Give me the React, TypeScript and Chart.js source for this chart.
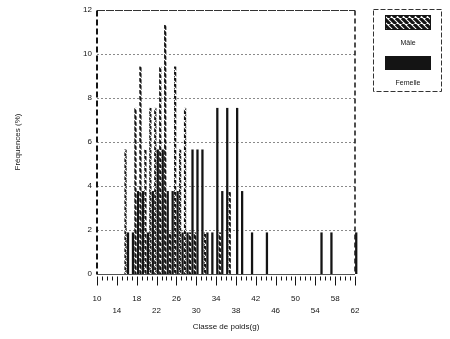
import React, { useEffect, useRef } from "react";
import { Chart, registerables } from "chart.js";

Chart.register(...registerables);

// ---- data ----
const weightClasses = [16, 17, 18, 19, 20, 21, 22, 23, 24, 25, 26, 27, 28, 29, 30, 31, 32, 33, 34, 35, 36, 37, 38, 39, 41, 44, 55, 57, 62];
const maleFreq = [5.66, 0, 7.55, 9.43, 5.66, 7.55, 7.55, 9.43, 11.32, 1.89, 9.43, 5.66, 7.55, 1.89, 1.89, 0, 1.89, 0, 0, 1.89, 0, 3.77, 0, 0, 0, 0, 0, 0, 0];
const femaleFreq = [1.89, 1.89, 3.77, 3.77, 1.89, 3.77, 5.66, 5.66, 3.77, 3.77, 3.77, 1.89, 1.89, 5.66, 5.66, 5.66, 1.89, 1.89, 7.55, 3.77, 7.55, 0, 7.55, 3.77, 1.89, 1.89, 1.89, 1.89, 1.89];
const xTickValues = [10, 14, 18, 22, 26, 30, 34, 38, 42, 46, 50, 54, 58, 62];
const yTickValues = [0, 2, 4, 6, 8, 10, 12];
const seriesNames = ["Mâle", "Femelle"];
const xTitle = "Classe de poids(g)";
const yTitle = "Fréquences (%)";

const FONT = "'Liberation Sans', 'DejaVu Sans', sans-serif";
const INK = "#141414";

function makeHatch(): CanvasPattern | string {
  const c = document.createElement("canvas");
  c.width = 6;
  c.height = 6;
  const g = c.getContext("2d");
  if (!g) return INK;
  g.fillStyle = "#ffffff";
  g.fillRect(0, 0, 6, 6);
  g.strokeStyle = INK;
  g.lineWidth = 3.2;
  g.beginPath();
  for (const k of [-6, 0, 6]) {
    g.moveTo(k, 0);
    g.lineTo(k + 6, 6);
  }
  g.stroke();
  const p = g.createPattern(c, "repeat");
  return p || INK;
}

const framePlugin = {
  id: "frame",
  beforeDatasetsDraw(chart: any) {
    const { ctx, chartArea } = chart;
    const ys = chart.scales.y;
    ctx.save();
    ctx.strokeStyle = "#8a8a8a";
    ctx.lineWidth = 1;
    ctx.setLineDash([2, 2]);
    for (const v of yTickValues) {
      if (v === 0 || v === 12) continue;
      const y = Math.round(ys.getPixelForValue(v)) + 0.5;
      ctx.beginPath();
      ctx.moveTo(chartArea.left, y);
      ctx.lineTo(chartArea.right, y);
      ctx.stroke();
    }
    ctx.restore();
  },
  afterDatasetsDraw(chart: any) {
    const { ctx, chartArea } = chart;
    const xs = chart.scales.x;
    const ys = chart.scales.y;
    const top = Math.round(ys.getPixelForValue(12)) + 0.5;
    const bottom = Math.round(ys.getPixelForValue(0)) + 0.5;
    ctx.save();
    ctx.strokeStyle = "#333";
    ctx.lineWidth = 1.2;
    ctx.setLineDash([8, 1]);
    ctx.beginPath();
    ctx.moveTo(chartArea.left, top);
    ctx.lineTo(chartArea.right, top);
    ctx.stroke();
    ctx.strokeStyle = INK;
    ctx.lineWidth = 2;
    ctx.setLineDash([6, 3]);
    ctx.beginPath();
    ctx.moveTo(chartArea.left, top);
    ctx.lineTo(chartArea.left, bottom);
    ctx.stroke();
    ctx.lineWidth = 1.5;
    ctx.setLineDash([5, 3]);
    ctx.beginPath();
    ctx.moveTo(chartArea.right, top);
    ctx.lineTo(chartArea.right, bottom);
    ctx.stroke();
    ctx.setLineDash([]);
    ctx.lineWidth = 1;
    ctx.strokeStyle = "#555";
    ctx.beginPath();
    ctx.moveTo(chartArea.left, bottom);
    ctx.lineTo(chartArea.right, bottom);
    ctx.stroke();
    ctx.strokeStyle = INK;
    ctx.lineWidth = 1;
    for (let v = xTickValues[0]; v <= xTickValues[xTickValues.length - 1]; v++) {
      const x = Math.round(xs.getPixelForValue(v)) + 0.5;
      const major = xTickValues.includes(v);
      ctx.beginPath();
      ctx.moveTo(x, bottom + 2);
      ctx.lineTo(x, bottom + (major ? 11 : 6));
      ctx.stroke();
    }
    ctx.restore();
  },
  afterDraw(chart: any) {
    const { ctx } = chart;
    const hatch = chart.$hatch;
    ctx.save();
    ctx.strokeStyle = "#333";
    ctx.lineWidth = 1;
    ctx.setLineDash([5, 2]);
    ctx.strokeRect(373.5, 9.5, 68, 82);
    ctx.setLineDash([]);
    ctx.fillStyle = hatch;
    ctx.fillRect(385, 15, 46, 15);
    ctx.strokeStyle = INK;
    ctx.strokeRect(385.5, 15.5, 45, 14);
    ctx.fillStyle = INK;
    ctx.fillRect(385, 56, 46, 14);
    ctx.font = `7px ${FONT}`;
    ctx.fillStyle = INK;
    ctx.textAlign = "center";
    ctx.textBaseline = "middle";
    ctx.fillText(seriesNames[0], 408, 43);
    ctx.fillText(seriesNames[1], 408, 83);
    ctx.restore();
  },
};

export default function App() {
  const ref = useRef<HTMLCanvasElement | null>(null);
  useEffect(() => {
    if (!ref.current) return;
    const hatch = makeHatch();
    const chart = new Chart(ref.current, {
      type: "bar",
      data: {
        datasets: [
          {
            label: seriesNames[0],
            data: weightClasses.map((c, i) => ({ x: c, y: maleFreq[i] })),
            backgroundColor: hatch as any,
            borderWidth: 0,
            clip: 6,
          },
          {
            label: seriesNames[1],
            data: weightClasses.map((c, i) => ({ x: c, y: femaleFreq[i] })),
            backgroundColor: INK,
            borderWidth: 0,
            clip: 6,
          },
        ],
      },
      options: {
        animation: false,
        responsive: false,
        maintainAspectRatio: false,
        layout: { padding: { top: 10, right: 95, bottom: 0, left: 0 } },
        datasets: { bar: { categoryPercentage: 1, barPercentage: 0.92 } } as any,
        plugins: { legend: { display: false }, tooltip: { enabled: false } },
        scales: {
          x: {
            type: "linear",
            min: 10,
            max: 62,
            offset: false,
            grid: { display: false, drawTicks: false },
            border: { display: false },
            afterBuildTicks: (s: any) => {
              s.ticks = xTickValues.map((v) => ({ value: v }));
            },
            afterFit: (s: any) => {
              s.height = 65;
            },
            ticks: {
              autoSkip: false,
              maxRotation: 0,
              padding: 19,
              color: INK,
              font: { family: FONT, size: 8, lineHeight: 1.5 },
              callback: (v: any) => {
                const i = xTickValues.indexOf(Number(v));
                return i % 2 === 0 ? [String(v), ""] : ["", String(v)];
              },
            },
            title: {
              display: true,
              text: xTitle,
              color: INK,
              font: { family: FONT, size: 8 },
              padding: { top: 0, bottom: 7 },
            },
          },
          y: {
            min: 0,
            max: 12,
            grid: { display: false, drawTicks: false },
            border: { display: false },
            afterBuildTicks: (s: any) => {
              s.ticks = yTickValues.map((v) => ({ value: v }));
            },
            afterFit: (s: any) => {
              s.width = 97;
            },
            ticks: {
              padding: 5,
              color: INK,
              font: { family: FONT, size: 8 },
            },
            title: {
              display: true,
              text: yTitle,
              color: INK,
              font: { family: FONT, size: 8 },
              padding: { top: 13, bottom: 0 },
            },
          },
        },
      },
      plugins: [framePlugin],
    });
    (chart as any).$hatch = hatch;
    chart.draw();
    return () => chart.destroy();
  }, []);
  return (
    <div style={{ position: "fixed", left: 0, top: 0, width: 450, height: 339, background: "#fff" }}>
      <canvas ref={ref} width={450} height={339} style={{ display: "block", width: 450, height: 339 }} />
    </div>
  );
}
